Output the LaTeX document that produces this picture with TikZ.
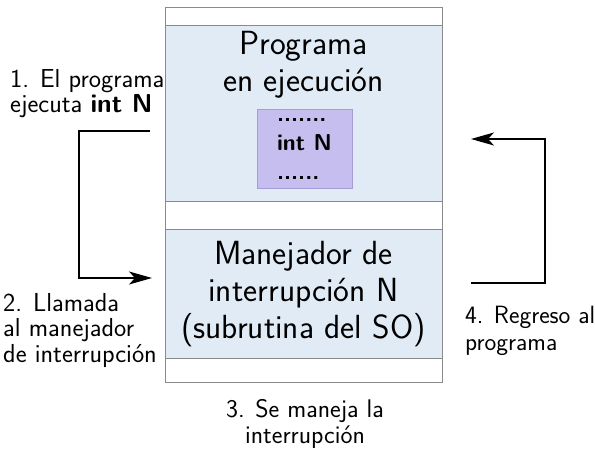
\documentclass[tikz,border=0pt]{standalone}
\usetikzlibrary{arrows.meta,positioning}
\definecolor{progblue}{HTML}{E1EBF6}
\definecolor{codeviolet}{HTML}{C6BEEE}
\definecolor{codeedge}{HTML}{A69DD6}
\definecolor{memedge}{HTML}{8A8A8A}
\tikzset{
  region/.style={draw=memedge,fill=progblue,inner sep=0pt},
  bigtext/.style={font=\sffamily\fontsize{33.5}{37}\selectfont,align=center,inner sep=0pt},
  smalltext/.style={font=\sffamily\fontsize{26}{25.5}\selectfont,inner sep=0pt},
  flow/.style={line width=1.1pt,-{Stealth[length=23pt,width=13pt,inset=6pt]}}
}
\begin{document}
\begin{tikzpicture}[x=1pt,y=-1pt]
\useasboundingbox (0,0) rectangle (595,452);

% memory column
\draw[memedge,fill=white] (165,7) rectangle (442,382);
\draw[region] (165,25) rectangle (442,201);
\draw[region] (165,229) rectangle (442,358);

\node[bigtext,anchor=base] (prog) at (303.5,92) {Programa\\en ejecución};
\node[draw=codeedge,fill=codeviolet,minimum width=95pt,minimum height=79pt,
  align=left,font=\sffamily\bfseries\fontsize{23}{29}\selectfont] (code) at (304.5,148.5)
  {.......\\int N\\......};
\node[bigtext,anchor=base] (isr) at (303.5,338) {Manejador de\\interrupción N\\(subrutina del SO)};

% labels
\node[smalltext,align=left,anchor=base west] (lbl1) at (10,113) {1. El programa\\ejecuta \textbf{int N}};
\node[smalltext,align=left,anchor=base west] (lbl2) at (3,362) {2. Llamada\\al manejador\\de interrupción};
\node[smalltext,font=\sffamily\fontsize{25.5}{26}\selectfont,align=center,anchor=base] (lbl3) at (305,443) {3. Se maneja la\\interrupción};
\node[smalltext,font=\sffamily\fontsize{25}{27}\selectfont,align=left,anchor=base west] (lbl4) at (465,350) {4. Regreso al\\programa};

% arrows
\coordinate (callout) at (150,131);
\coordinate (callin) at (152,278);
\coordinate (retout) at (471,283);
\coordinate (retin) at (471,139);
\draw[flow] (callout) -- ++(-71,0) |- (callin);
\draw[flow] (retout) -- ++(74,0) |- (retin);
\end{tikzpicture}
\end{document}
